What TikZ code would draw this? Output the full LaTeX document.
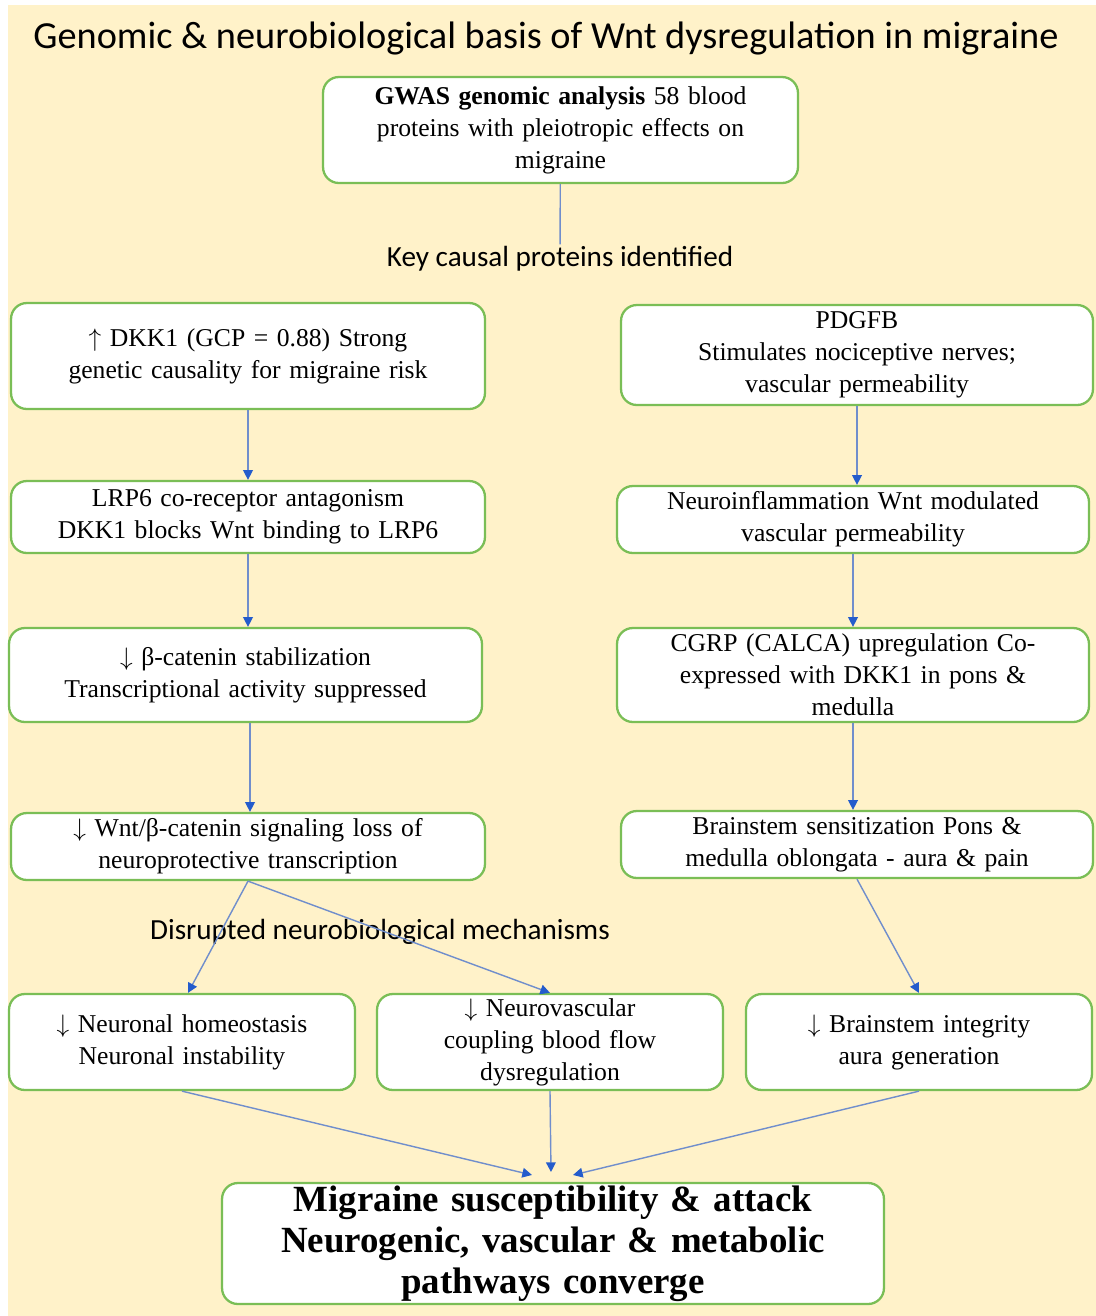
\documentclass[tikz,border=0pt]{standalone}
\usepackage{fontspec}
\setmainfont{Liberation Serif}[WordSpace={1.6,0.3,0.2}]
\newfontfamily\labelfont{Carlito}
\usetikzlibrary{positioning, calc, arrows.meta}
\definecolor{creambg}{RGB}{255,242,201}
\definecolor{boxgreen}{RGB}{122,190,86}
\definecolor{linkblue}{RGB}{112,142,204}
\definecolor{tipblue}{RGB}{36,92,204}
\tikzset{>={Triangle[length=5.5pt,width=5.5pt,color=tipblue]}}

\begin{document}
\begin{tikzpicture}
    [
        x=0.02cm, y=-0.02cm,
        green_box/.style={rectangle, rounded corners=9pt, draw=boxgreen, line width=1.3pt, fill=white, align=center, inner xsep=3pt, inner ysep=0pt, font=\fontsize{14.6}{18.2}\selectfont},
        final_box/.style={green_box, font=\fontsize{21}{23.3}\selectfont\bfseries},
        link_line/.style={draw=linkblue, line width=0.8pt},
        link_arrow/.style={link_line, ->},
        caption_text/.style={font=\labelfont\fontsize{16.6}{19}\selectfont, inner sep=1pt},
    ]

  % page and background
  \useasboundingbox (0,0) rectangle (1096,1316);
  \fill[white] (0,0) rectangle (1096,1316);
  \fill[creambg] (8,5) rectangle (1096,1316);

  \node[font=\labelfont\fontsize{21.8}{24}\selectfont] (title) at (546,38) {Genomic \& neurobiological basis of Wnt dysregulation in migraine};

  % top
  \node[green_box, minimum width=9.5cm, minimum height=2.12cm, text width=9.1cm] (gwas) at (560.5,130) {\textbf{GWAS genomic analysis} 58 blood\\ proteins with pleiotropic effects on\\ migraine};
  \node[caption_text] (key) at (560,259) {Key causal proteins identified};

  % left column
  \node[green_box, minimum width=9.48cm, minimum height=2.12cm, text width=9.1cm] (dkk) at (248,356) {$\uparrow$ DKK1 (GCP = 0.88) Strong\\ genetic causality for migraine risk};
  \node[green_box, minimum width=9.48cm, minimum height=1.44cm, text width=9.1cm] (lrp) at (248,517) {LRP6 co-receptor antagonism\\ DKK1 blocks Wnt binding to LRP6};
  \node[green_box, minimum width=9.46cm, minimum height=1.88cm, text width=9.1cm] (bcat) at (245.5,675) {$\downarrow$ β-catenin stabilization\\ Transcriptional activity suppressed};
  \node[green_box, minimum width=9.48cm, minimum height=1.34cm, text width=9.1cm] (wnt) at (248,846.5) {$\downarrow$ Wnt/β-catenin signaling loss of\\ neuroprotective transcription};

  % right column
  \node[green_box, minimum width=9.44cm, minimum height=2.0cm, text width=9.1cm] (pdgfb) at (857,355) {PDGFB\\ Stimulates nociceptive nerves;\\ vascular permeability};
  \node[green_box, minimum width=9.44cm, minimum height=1.34cm, text width=9.1cm] (inflam) at (853,519.5) {Neuroinflammation Wnt modulated\\ vascular permeability};
  \node[green_box, minimum width=9.44cm, minimum height=1.88cm, text width=9.1cm] (cgrp) at (853,675) {CGRP (CALCA) upregulation Co-\\ expressed with DKK1 in pons \&\\ medulla};
  \node[green_box, minimum width=9.44cm, minimum height=1.34cm, text width=9.1cm] (bsens) at (857,844.5) {Brainstem sensitization Pons \&\\ medulla oblongata - aura \& pain};

  % mechanisms
  \node[caption_text] (disr) at (380,932) {Disrupted neurobiological mechanisms};
  \node[green_box, minimum width=6.92cm, minimum height=1.92cm, text width=6.6cm] (homeo) at (182,1042) {$\downarrow$ Neuronal homeostasis\\ Neuronal instability};
  \node[green_box, minimum width=6.92cm, minimum height=1.92cm, text width=6.6cm] (nvc) at (550,1042) {$\downarrow$ Neurovascular\\ coupling blood flow\\ dysregulation};
  \node[green_box, minimum width=6.92cm, minimum height=1.92cm, text width=6.6cm] (integ) at (919,1042) {$\downarrow$ Brainstem integrity\\ aura generation};

  % outcome
  \node[final_box, minimum width=13.24cm, minimum height=2.42cm, text width=12.8cm] (final) at (553,1243.5) {Migraine susceptibility \& attack\\ Neurogenic, vascular \& metabolic\\ pathways converge};
  \coordinate (in_left) at (532,1175);
  \coordinate (in_mid) at (551,1172);
  \coordinate (in_right) at (573,1175);

  \draw[link_line] (gwas) -- (key);
  \draw[link_arrow] (dkk) -- (lrp);
  \draw[link_arrow] (lrp) -- (bcat.north -| lrp.south);
  \draw[link_arrow] (bcat.south -| wnt.north) ++(2,0) -- ([xshift=2*0.02cm]wnt.north);
  \draw[link_arrow] (pdgfb) -- (inflam.north -| pdgfb.south);
  \draw[link_arrow] (inflam) -- (cgrp);
  \draw[link_arrow] (cgrp) -- (bsens.north -| cgrp.south);
  \draw[link_arrow] (wnt.south) -- ([xshift=6*0.02cm]homeo.north);
  \draw[link_arrow] (wnt.south) -- (nvc.north);
  \draw[link_arrow] (bsens.south) -- (integ.north);
  \draw[link_arrow] (homeo.south) -- (in_left);
  \draw[link_arrow] (nvc.south) -- (in_mid);
  \draw[link_arrow] (integ.south) -- (in_right);
\end{tikzpicture}
\end{document}
